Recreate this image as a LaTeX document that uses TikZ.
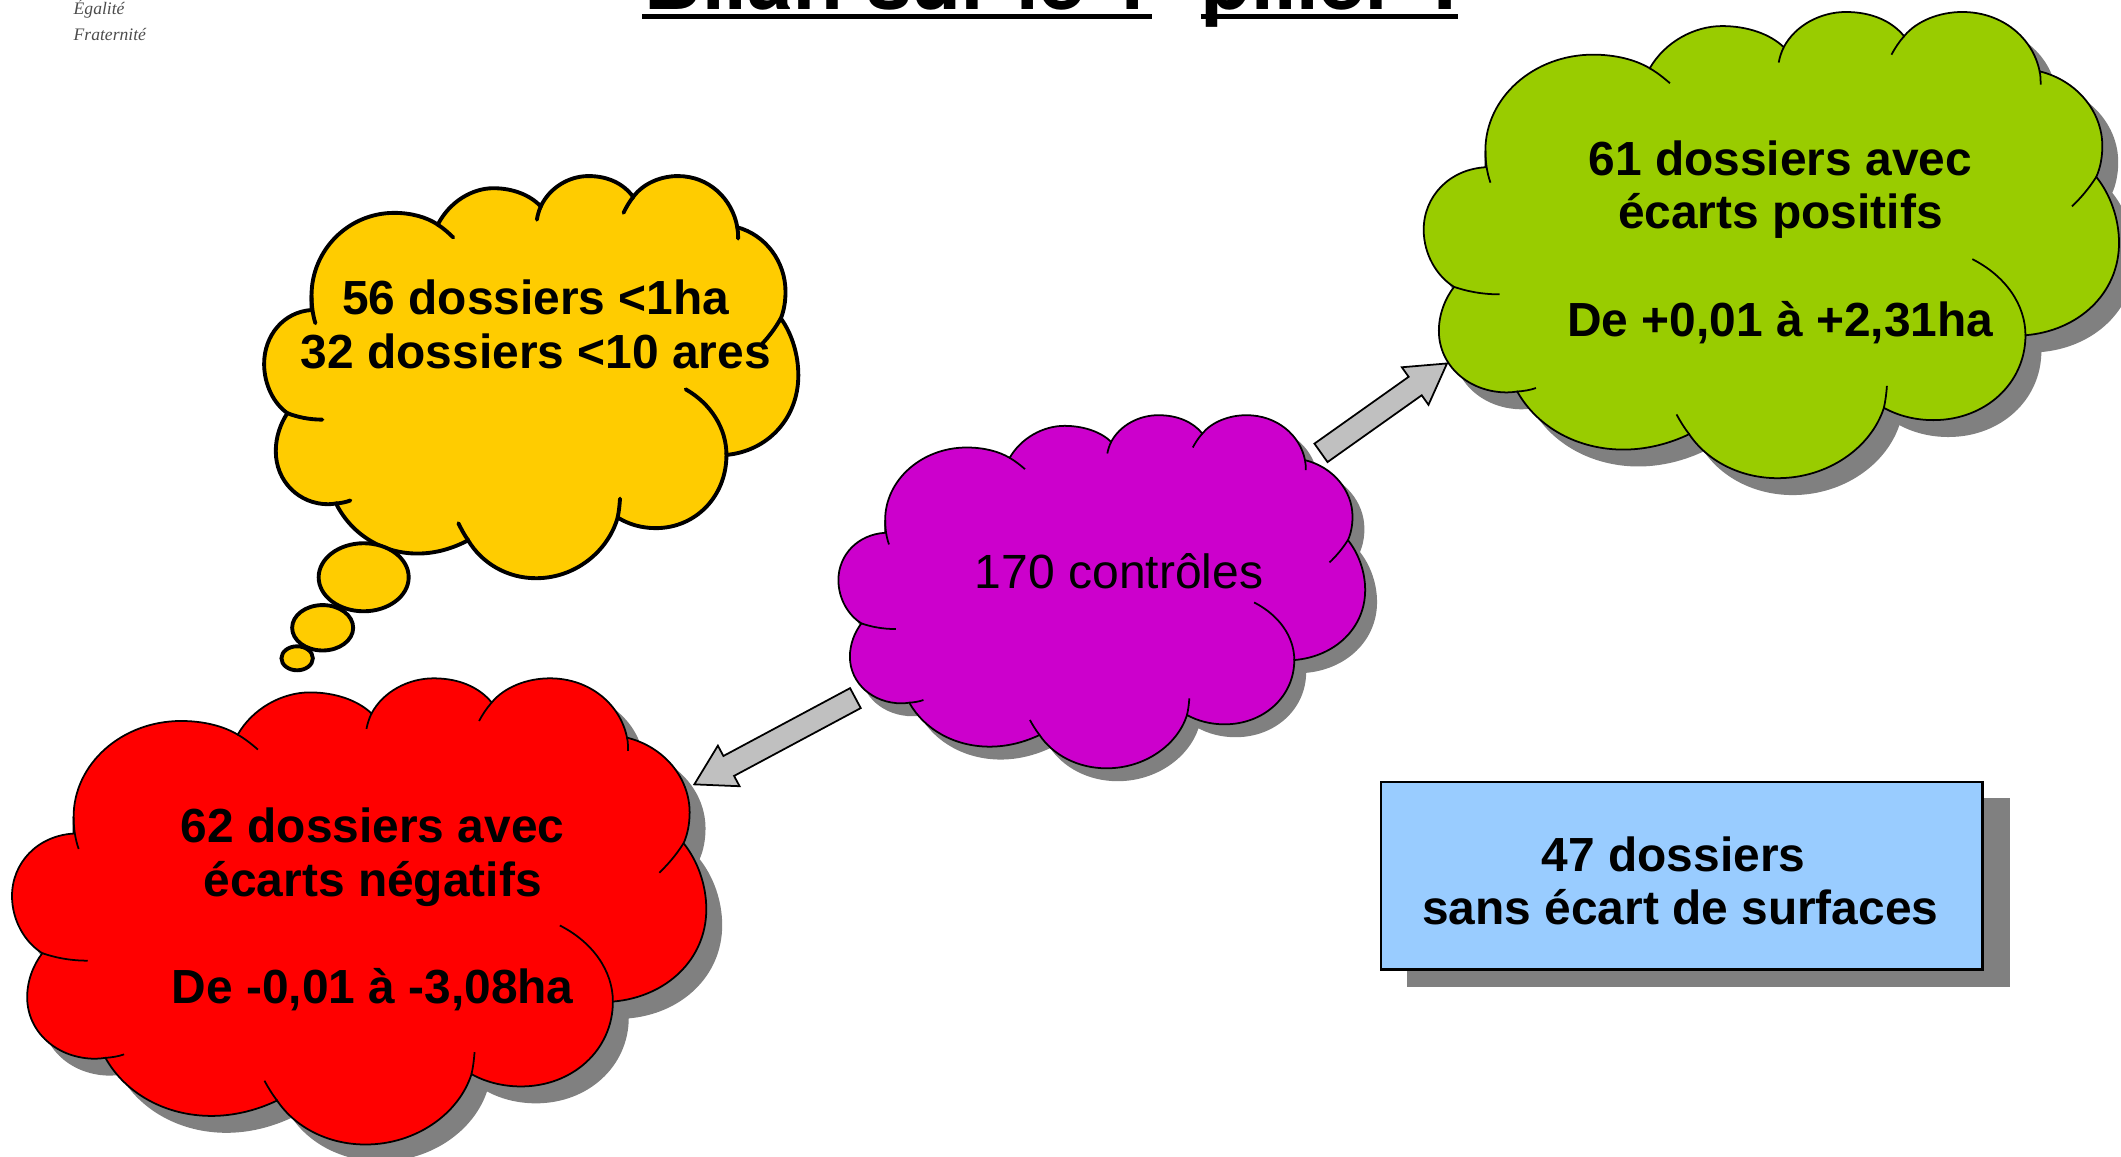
\documentclass[tikz,border=0pt]{standalone}
\usepackage{fontspec}
\setmainfont{Liberation Sans}
\newfontfamily\logofont{Liberation Serif}
\newfontfamily\titlefont{TeX Gyre Heros}
\usetikzlibrary{calc}
\pgfdeclarelayer{edgelayer}
\pgfdeclarelayer{nodelayer}
\pgfsetlayers{edgelayer,nodelayer,main}
\definecolor{shadowgrey}{HTML}{808080}
\definecolor{arrowgrey}{HTML}{C0C0C0}
\definecolor{cloudyellow}{HTML}{FFCC00}
\definecolor{cloudgreen}{HTML}{99CC00}
\definecolor{cloudmagenta}{HTML}{CC00CC}
\definecolor{boxblue}{HTML}{99CCFF}
\tikzstyle{endpoint}=[inner sep=0pt]
\tikzstyle{label}=[inner sep=0pt,align=center,font=\fontsize{13.62pt}{15.3pt}\selectfont\bfseries]
\tikzstyle{plainlabel}=[inner sep=0pt,align=center,font=\fontsize{13.66pt}{15.3pt}\selectfont]
\tikzstyle{title}=[inner sep=0pt,anchor=base west,font=\fontsize{23.3pt}{26pt}\titlefont\bfseries]
\tikzstyle{logo}=[inner sep=0pt,anchor=base west,text=black!70,font=\fontsize{5pt}{6pt}\logofont\itshape]
\tikzstyle{shadow}=[draw=shadowgrey,fill=shadowgrey,line width=0.5pt]
\tikzstyle{yellowcloud}=[draw=black,fill=cloudyellow,line width=1.1pt,line cap=round]
\tikzstyle{greencloud}=[draw=black,fill=cloudgreen,line width=0.5pt]
\tikzstyle{redcloud}=[draw=black,fill=red,line width=0.5pt]
\tikzstyle{magentacloud}=[draw=black,fill=cloudmagenta,line width=0.5pt]
\tikzstyle{box}=[draw=black,fill=boxblue,line width=0.6pt,inner sep=0pt,minimum width=6.01cm,minimum height=1.87cm]
\tikzstyle{boxshadow}=[fill=shadowgrey,inner sep=0pt,minimum width=6.03cm,minimum height=1.89cm]
\tikzstyle{underline}=[line width=1.5pt]
\tikzstyle{blockarrow}=[draw=black,fill=arrowgrey,line width=0.5pt,line join=miter,to path={
	-- ($(\tikztostart)!0.113cm!90:(\tikztotarget)$)
	-- ($(\tikztotarget)!0.39cm!(\tikztostart)!0.113cm!90:(\tikztotarget)$)
	-- ($(\tikztotarget)!0.39cm!(\tikztostart)!0.23cm!90:(\tikztotarget)$)
	-- (\tikztotarget)
	-- ($(\tikztotarget)!0.39cm!(\tikztostart)!0.23cm!-90:(\tikztotarget)$)
	-- ($(\tikztotarget)!0.39cm!(\tikztostart)!0.113cm!-90:(\tikztotarget)$)
	-- ($(\tikztostart)!0.113cm!-90:(\tikztotarget)$)
	-- cycle}]
% one cloud: style, left, top, width, height
\newcommand{\cloudshape}[5]{
	\begin{scope}[shift={(#2,#3)},x=#4cm/1375,y=-#5cm/1060]
		\draw [style=#1] (122,353) -- (122,315)
			.. controls (122,195) and (217,97) .. (335,97)
			.. controls (378,97) and (418,108) .. (447,128)
			.. controls (477,68) and (535,32) .. (590,32)
			.. controls (640,32) and (685,50) .. (712,80)
			.. controls (735,30) and (785,0) .. (835,0)
			.. controls (885,0) and (925,20) .. (950,55)
			.. controls (975,20) and (1020,0) .. (1065,0)
			.. controls (1145,0) and (1205,60) .. (1218,135)
			.. controls (1290,155) and (1342,225) .. (1342,305)
			.. controls (1342,330) and (1338,355) .. (1330,375)
			.. controls (1358,415) and (1375,470) .. (1375,525)
			.. controls (1375,640) and (1295,725) .. (1190,735)
			.. controls (1190,845) and (1110,928) .. (1008,928)
			.. controls (972,928) and (938,918) .. (910,900)
			.. controls (885,990) and (800,1060) .. (700,1060)
			.. controls (625,1060) and (560,1020) .. (525,960)
			.. controls (485,982) and (440,995) .. (395,995)
			.. controls (305,995) and (225,945) .. (185,863)
			.. controls (178,864) and (172,865) .. (165,865)
			.. controls (90,865) and (30,805) .. (30,725)
			.. controls (30,688) and (42,652) .. (60,625)
			.. controls (25,600) and (0,550) .. (0,495)
			.. controls (0,420) and (50,358) .. (122,353) -- cycle;
		\path [style=#1,fill=none] (132,388) .. controls (125,365) and (122,340) .. (122,315)
			(447,128) .. controls (462,138) and (475,150) .. (487,162)
			(702,115) .. controls (704,103) and (707,92) .. (712,80)
			(925,97) .. controls (932,82) and (940,68) .. (950,55)
			(1218,135) .. controls (1220,145) and (1220,155) .. (1220,165)
			(1330,375) .. controls (1315,402) and (1300,422) .. (1282,442)
			(1085,562) .. controls (1150,600) and (1190,665) .. (1190,735)
			(916,850) .. controls (915,868) and (913,885) .. (910,900)
			(525,960) .. controls (515,945) and (507,930) .. (500,915)
			(222,855) .. controls (210,860) and (197,862) .. (185,863)
			(60,625) .. controls (85,635) and (115,642) .. (150,642);
	\end{scope}
}

\begin{document}
\begin{tikzpicture}
	\useasboundingbox (0,0) rectangle (21.2,-11.56);
	\begin{pgfonlayer}{nodelayer}
		\node [style=logo] (0) at (0.73,-0.15) {Égalité};
		\node [style=logo] (1) at (0.73,-0.4) {Fraternité};
		\node [style=title] (2) at (6.42,-0.095) {Bilan sur le 1\textsuperscript{er}};
		\node [style=title] (3) at (12.0,-0.095) {pilier\hspace{0.12cm} :};
		\node [style=endpoint] (4) at (6.42,-0.166) {};
		\node [style=endpoint] (5) at (11.51,-0.166) {};
		\node [style=endpoint] (6) at (12.0,-0.166) {};
		\node [style=endpoint] (7) at (14.575,-0.166) {};
		\node [style=label] (8) at (5.355,-3.245) {56 dossiers <1ha\\32 dossiers <10 ares};
		\node [style=plainlabel] (9) at (11.185,-5.705) {170 contrôles};
		\node [style=label] (10) at (17.795,-2.42) {61 dossiers avec\\écarts positifs\\~\\De +0,01 à +2,31ha};
		\node [style=label] (11) at (3.725,-9.09) {62 dossiers avec\\écarts négatifs\\~\\De -0,01 à -3,08ha};
		\node [style=boxshadow] (12) at (17.075,-8.92) {};
		\node [style=box] (13) at (16.81,-8.755) {};
		\node [style=label] (14) at (16.795,-8.805) {47 dossiers\hphantom{\ }\\sans écart de surfaces};
		\node [style=endpoint] (15) at (13.2035,-4.5265) {};
		\node [style=endpoint] (16) at (14.463,-3.633) {};
		\node [style=endpoint] (17) at (8.55,-6.978) {};
		\node [style=endpoint] (18) at (6.94,-7.84) {};
	\end{pgfonlayer}
	\begin{pgfonlayer}{edgelayer}
		% clouds, each with its shadow first
		\cloudshape{yellowcloud}{2.64}{-1.76}{5.34}{4.02}
		\draw [style=yellowcloud] (3.635,-5.77) ellipse (0.45 and 0.34);
		\draw [style=yellowcloud] (3.225,-6.275) ellipse (0.305 and 0.227);
		\draw [style=yellowcloud] (2.97,-6.58) ellipse (0.157 and 0.12);
		\cloudshape{shadow}{8.49}{-4.27}{5.265}{3.53}
		\cloudshape{magentacloud}{8.38}{-4.15}{5.265}{3.53}
		\cloudshape{shadow}{14.38}{-0.28}{6.95}{4.66}
		\cloudshape{greencloud}{14.23}{-0.12}{6.95}{4.66}
		\cloudshape{shadow}{0.27}{-6.94}{6.94}{4.66}
		\cloudshape{redcloud}{0.12}{-6.78}{6.94}{4.66}
		\draw [style=blockarrow] (15.center) to (16.center);
		\draw [style=blockarrow] (17.center) to (18.center);
		\draw [style=underline] (4.center) to (5.center);
		\draw [style=underline] (6.center) to (7.center);
	\end{pgfonlayer}
\end{tikzpicture}
\end{document}
